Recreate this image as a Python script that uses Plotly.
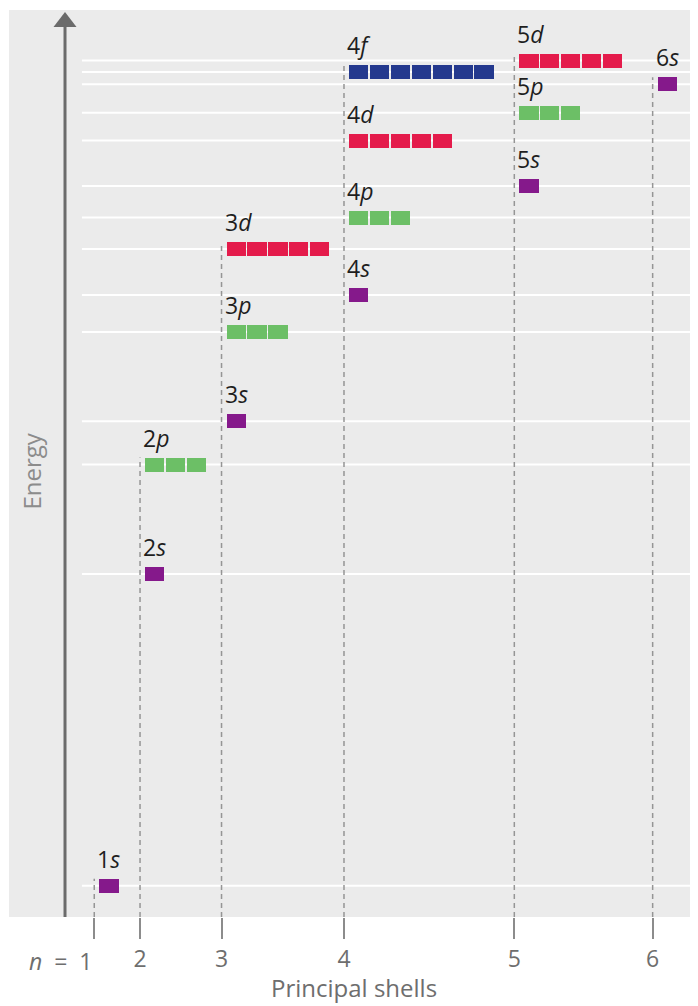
import plotly.graph_objects as go

# ---- data ----
shell_numbers = [1, 2, 3, 4, 5, 6]
shell_x = [4.08, 6.27, 10.17, 16.03, 24.18, 30.80]     # horizontal position of each shell (box-width units)
tick_labels = ["", "2", "3", "4", "5", "6"]

orb_n = [1, 2, 2, 3, 3, 3, 4, 4, 4, 4, 5, 5, 5, 6]
orb_l = ["s", "s", "p", "s", "p", "d", "s", "p", "d", "f", "s", "p", "d", "s"]
orb_energy = [3.13, 34.3, 45.25, 49.57, 58.5, 66.8, 62.2, 69.95, 77.65, 84.5, 73.1, 80.43, 85.65, 83.28]

n_boxes = {"s": 1, "p": 3, "d": 5, "f": 7}
colors = {"s": "#85198b", "p": "#6cbf66", "d": "#e41b4b", "f": "#24398e"}

# ---- style ----
X_MAX = 32.97
Y_MAX = 90.7
BOX_H = 1.4
BOX_W = 0.92
BOX_OFF = 0.2
GRID_START = 3.49
ARROW_X = 2.68
panel_bg = "#ebebeb"

fig = go.Figure()

# white level lines (behind the boxes)
for e in orb_energy:
    fig.add_shape(type="line", xref="x", yref="y", x0=GRID_START, x1=X_MAX, y0=e, y1=e,
                  line=dict(color="white", width=2), layer="below")

# dashed shell lines
dx, dy = [], []
for k, n in enumerate(shell_numbers):
    top = max(e for e, nn in zip(orb_energy, orb_n) if nn == n) + BOX_H / 2
    dx += [shell_x[k], shell_x[k], None]
    dy += [0, top, None]
fig.add_trace(go.Scatter(x=dx, y=dy, mode="lines",
                         line=dict(color="#959595", width=1.5, dash="5px,4px"),
                         hoverinfo="skip", showlegend=False))

# orbital boxes
for l in ["s", "p", "d", "f"]:
    bx, bbase = [], []
    for n, ll, e in zip(orb_n, orb_l, orb_energy):
        if ll != l:
            continue
        start = shell_x[shell_numbers.index(n)] + BOX_OFF
        for i in range(n_boxes[l]):
            bx.append(start + 0.5 + i)
            bbase.append(e - BOX_H / 2)
    fig.add_trace(go.Bar(x=bx, y=[BOX_H] * len(bx), base=bbase, width=BOX_W,
                         marker=dict(color=colors[l], line=dict(width=0)),
                         hoverinfo="skip", showlegend=False))

# orbital labels
for n, l, e in zip(orb_n, orb_l, orb_energy):
    start = shell_x[shell_numbers.index(n)] + BOX_OFF
    fig.add_annotation(x=start, y=e + BOX_H / 2, xref="x", yref="y",
                       text=f"{n}<i>{l}</i>", showarrow=False,
                       xanchor="left", yanchor="bottom", xshift=-3, yshift=2,
                       font=dict(family="Open Sans", size=23, color="#1e1e1e"))

# n = 1 label
fig.add_annotation(x=shell_x[0], y=0, xref="x", yref="paper",
                   text="<i>n</i>&nbsp;&nbsp;=&nbsp;&nbsp;1", showarrow=False,
                   xanchor="right", yanchor="top", xshift=0, yshift=-26,
                   font=dict(family="Open Sans", size=23, color="#6e6e6e"))

# axis title
fig.add_annotation(x=0.5, y=0, xref="paper", yref="paper", text="Principal shells",
                   showarrow=False, xanchor="center", yanchor="top", yshift=-52,
                   font=dict(family="Open Sans", size=24, color="#6e6e6e"))

# Energy label
fig.add_annotation(x=1.03, y=44.6, xref="x", yref="y", text="Energy", textangle=-90,
                   showarrow=False, xanchor="center", yanchor="middle",
                   font=dict(family="Open Sans", size=24, color="#8c8c8c"))

# energy arrow
fig.add_shape(type="line", xref="x", yref="y", x0=ARROW_X, x1=ARROW_X, y0=0, y1=89.2,
              line=dict(color="#6b6b6b", width=3))
fig.add_shape(type="path", xref="x", yref="y",
              path=f"M {ARROW_X-0.55} 89.0 L {ARROW_X+0.55} 89.0 L {ARROW_X} 90.5 Z",
              fillcolor="#6b6b6b", line=dict(width=0))

fig.update_layout(
    width=690, height=998,
    margin=dict(l=1, r=0, t=2, b=89),
    plot_bgcolor=panel_bg, paper_bgcolor="white",
    barmode="overlay", bargap=0,
    xaxis=dict(range=[0, X_MAX], tickvals=shell_x, ticktext=tick_labels,
               ticks="outside", ticklen=21, tickwidth=1.5, tickcolor="#8c8c8c",
               showgrid=False, zeroline=False, showline=False,
               tickfont=dict(family="Open Sans", size=23, color="#6e6e6e")),
    yaxis=dict(range=[0, Y_MAX], showgrid=False, zeroline=False, showticklabels=False,
               showline=False),
)

fig.write_html("out.html")
